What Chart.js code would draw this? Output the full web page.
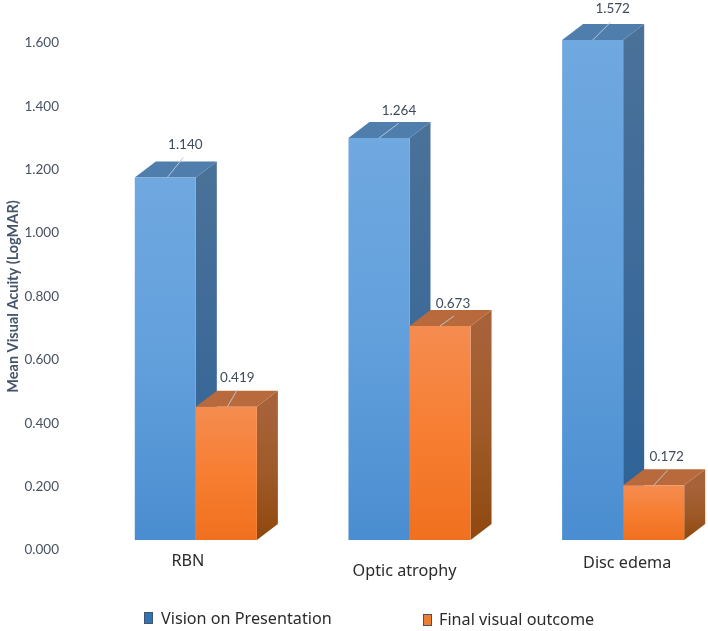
<!DOCTYPE html>
<html>
<head>
<meta charset="utf-8">
<title>Mean Visual Acuity</title>
<script src="https://cdn.jsdelivr.net/npm/chart.js@4"></script>
<style>
    html, body { margin: 0; padding: 0; background: #fff; overflow: hidden; }
    /* the last group's depth runs close to the edge, so the plot is wider than the page */
    #wrap { width: 730px; height: 631px; }
</style>
</head>
<body>
<div id="wrap"><canvas id="acuityChart"></canvas></div>
<script>
const categories = ['RBN', 'Optic atrophy', 'Disc edema'];
const presentation = [1.140, 1.264, 1.572];
const finalOutcome = [0.419, 0.673, 0.172];
const seriesNames = ['Vision on Presentation', 'Final visual outcome'];
const yTicks = [0, 0.2, 0.4, 0.6, 0.8, 1.0, 1.2, 1.4, 1.6];

// Depth of the extruded bars, px
const DEPTH_X = 21;
const DEPTH_Y = 16;

const SANS = '"Noto Sans", sans-serif';
const NARROW = 'Lato, sans-serif';

const palette = [
    {
        front: ['#70a8e0', '#62a0dc', '#4a8dd0'],
        top: '#4f7dac',
        side: ['#4a7198', '#3c6a98', '#2c6296'],
        swatch: '#2e75b6'
    },
    {
        front: ['#f58c50', '#f77e32', '#f0701e'],
        top: '#b86a3c',
        side: ['#a8623a', '#9e5a28', '#8f480e'],
        swatch: '#ed7d31'
    }
];

// Leader line ends and label centres, relative to the bar's front top edge
const labelPlacement = [
    [{ x0: 2, x1: 18, y1: -20, lx: 20, ly: -33 }, { x0: 0, x1: 20, y1: -15, lx: 20, ly: -27 }, { x0: 0, x1: 18, y1: -18, lx: 20, ly: -31 }],
    [{ x0: 1, x1: 11, y1: -17, lx: 11, ly: -29 }, { x0: 0, x1: 14, y1: -10, lx: 13, ly: -22 }, { x0: 0, x1: 14, y1: -15, lx: 13, ly: -29 }]
];

// Category names sit slightly off their group centres
const categoryNudge = [{ x: -8, y: 561 }, { x: -5, y: 571 }, { x: 4, y: 563 }];

const legendEntries = [
    { box: 144, boxY: 612, text: 161, textY: 619 },
    { box: 423, boxY: 614, text: 439, textY: 620 }
];

function verticalGradient(ctx, y0, y1, stops) {
    const g = ctx.createLinearGradient(0, y0, 0, y1);
    stops.forEach((color, i) => g.addColorStop(i / (stops.length - 1), color));
    return g;
}

function polygon(ctx, pts, fill) {
    ctx.fillStyle = fill;
    ctx.beginPath();
    pts.forEach((p, i) => i ? ctx.lineTo(p[0], p[1]) : ctx.moveTo(p[0], p[1]));
    ctx.closePath();
    ctx.fill();
}

function frontFill(context) {
    const colors = palette[context.datasetIndex];
    const scale = context.chart.scales.yBars;
    // options also get resolved before the scales have a size
    if (context.type !== 'data' || !scale) return colors.swatch;
    const top = scale.getPixelForValue(context.raw);
    const base = scale.getPixelForValue(0);
    if (!isFinite(top) || !isFinite(base)) return colors.swatch;
    return verticalGradient(context.chart.ctx, top, base, colors.front);
}

// Top and side faces go under all the front faces, first series first
const extrudePlugin = {
    id: 'extrude',
    beforeDatasetsDraw(chart) {
        const ctx = chart.ctx;
        ctx.save();
        chart.data.datasets.forEach((ds, d) => {
            const colors = palette[d];
            chart.getDatasetMeta(d).data.forEach(bar => {
                const left = bar.x - bar.width / 2;
                const right = bar.x + bar.width / 2;
                polygon(ctx, [[right, bar.y], [right + DEPTH_X, bar.y - DEPTH_Y], [right + DEPTH_X, bar.base - DEPTH_Y], [right, bar.base]],
                    verticalGradient(ctx, bar.y, bar.base, colors.side));
                polygon(ctx, [[left, bar.y], [left + DEPTH_X, bar.y - DEPTH_Y], [right + DEPTH_X, bar.y - DEPTH_Y], [right, bar.y]], colors.top);
            });
        });
        ctx.restore();
    }
};

// Value labels with leader lines, category names and the legend row
const annotatePlugin = {
    id: 'annotate',
    afterDatasetsDraw(chart) {
        const ctx = chart.ctx;
        ctx.save();
        ctx.textAlign = 'center';
        ctx.textBaseline = 'middle';

        chart.data.datasets.forEach((ds, d) => {
            chart.getDatasetMeta(d).data.forEach((bar, i) => {
                const p = labelPlacement[d][i];
                ctx.strokeStyle = '#b9c6d4';
                ctx.lineWidth = 1;
                ctx.beginPath();
                ctx.moveTo(bar.x + p.x0, bar.y);
                ctx.lineTo(bar.x + p.x1, bar.y + p.y1);
                ctx.stroke();
                ctx.fillStyle = '#3f4b5c';
                ctx.font = '13.5px ' + NARROW;
                ctx.fillText(ds.data[i].toFixed(3), bar.x + p.lx, bar.y + p.ly);
            });
        });

        const xScale = chart.scales.x;
        ctx.fillStyle = '#2b2b2b';
        ctx.font = '16.2px ' + SANS;
        categories.forEach((name, i) => {
            ctx.fillText(name, xScale.getPixelForValue(i) + categoryNudge[i].x, categoryNudge[i].y);
        });

        ctx.textAlign = 'left';
        chart.data.datasets.forEach((ds, d) => {
            const e = legendEntries[d];
            ctx.fillStyle = palette[d].swatch;
            ctx.strokeStyle = '#44546a';
            ctx.lineWidth = 1;
            ctx.fillRect(e.box, e.boxY, 9, 12);
            ctx.strokeRect(e.box + 0.5, e.boxY + 0.5, 8, 11);
            ctx.fillStyle = '#2b2b2b';
            ctx.fillText(ds.label, e.text, e.textY);
        });
        ctx.restore();
    }
};

const barStyle = {
    yAxisID: 'yBars',
    backgroundColor: frontFill,
    borderWidth: 0,
    barPercentage: 1,
    categoryPercentage: 0.5714,
    clip: false
};

document.addEventListener('DOMContentLoaded', function() {
    const ctx = document.getElementById('acuityChart').getContext('2d');

    new Chart(ctx, {
        type: 'bar',
        data: {
            labels: categories,
            datasets: [
                { label: seriesNames[0], data: presentation, ...barStyle },
                { label: seriesNames[1], data: finalOutcome, ...barStyle }
            ]
        },
        options: {
            responsive: true,
            maintainAspectRatio: false,
            animation: false,
            layout: { padding: { top: 43, bottom: 81, left: 0, right: 0 } },
            plugins: {
                legend: { display: false },
                tooltip: { enabled: false }
            },
            scales: {
                x: {
                    grid: { display: false },
                    border: { display: false },
                    ticks: { display: false },
                    afterFit(scale) {
                        scale.height = 0;
                        scale.paddingLeft = 0;
                        scale.paddingRight = 0;
                    }
                },
                // Printed axis, its zero sits below the bars' floor as on an oblique 3D chart
                y: {
                    position: 'left',
                    min: 0,
                    max: 1.6,
                    afterBuildTicks(scale) {
                        scale.ticks = yTicks.map(value => ({ value }));
                    },
                    afterFit(scale) {
                        scale.width = 89;
                        scale.paddingTop = 0;
                        scale.paddingBottom = 0;
                    },
                    grid: { display: false, drawTicks: false },
                    border: { display: false },
                    ticks: {
                        color: '#485262',
                        padding: 30,
                        font: { family: 'Lato', size: 13.5 },
                        callback: value => value.toFixed(3)
                    },
                    title: {
                        display: true,
                        text: 'Mean Visual Acuity (LogMAR)',
                        color: '#44546a',
                        padding: { top: 5, bottom: 0 },
                        font: { family: 'Lato', size: 14.5, weight: 'bold' }
                    }
                },
                // Scale the bars are measured on, shifted up to the front plane
                yBars: {
                    display: false,
                    min: -10 / 318,
                    max: 497 / 318
                }
            }
        },
        plugins: [extrudePlugin, annotatePlugin]
    });
});
</script>
</body>
</html>
